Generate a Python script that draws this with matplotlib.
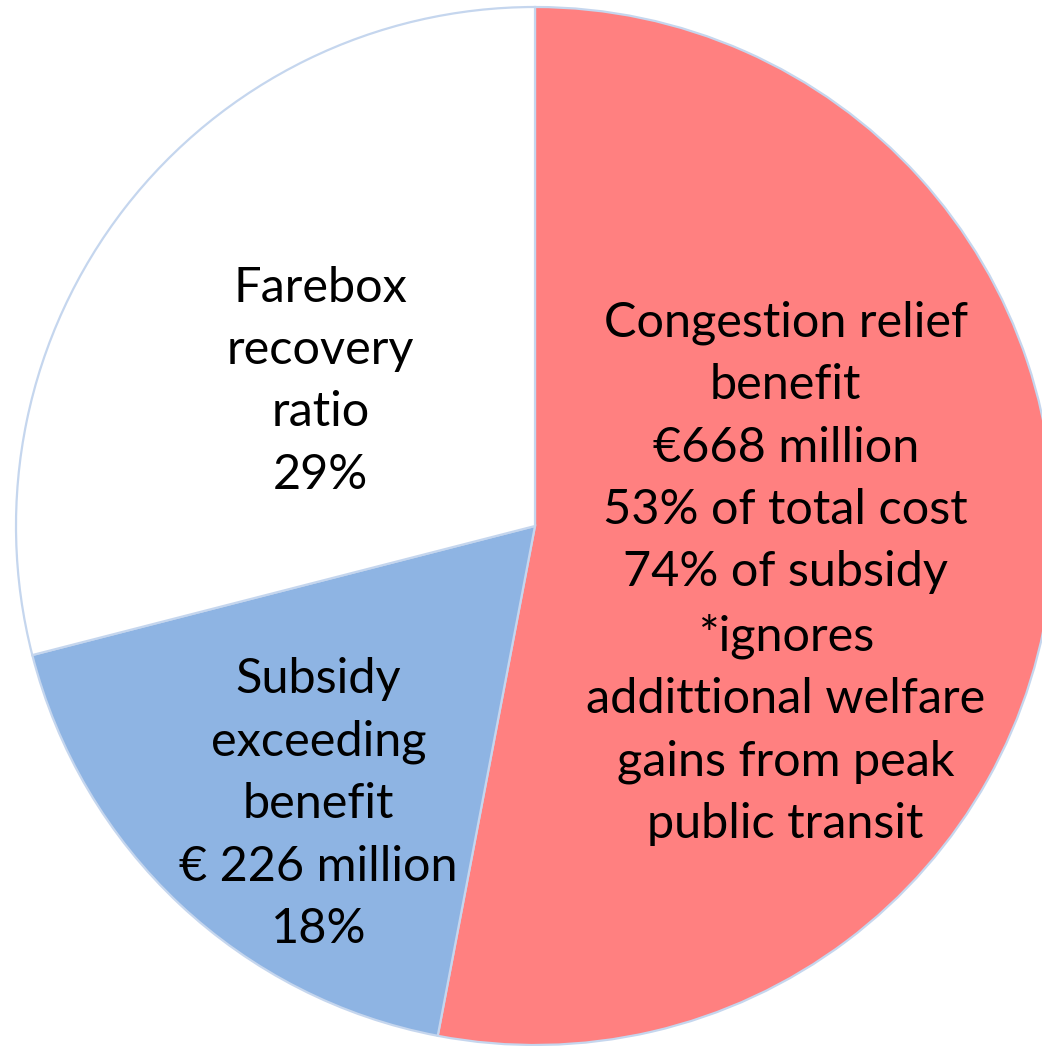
import matplotlib.pyplot as plt

# Shares of total cost (percent), clockwise from 12 o'clock
labels = ["Congestion relief benefit", "Subsidy exceeding benefit", "Farebox recovery ratio"]
shares = [53, 18, 29]
colors = ["#FF8080", "#8EB4E3", "#FFFFFF"]

texts = [
    "Congestion relief\nbenefit\n€668 million\n53% of total cost\n74% of subsidy\n*ignores\naddittional welfare\ngains from peak\npublic transit",
    "Subsidy\nexceeding\nbenefit\n€ 226 million\n18%",
    "Farebox\nrecovery\nratio\n29%",
]
# label centres in units of the pie radius
text_pos = [(0.483, -0.091), (-0.417, -0.536), (-0.413, 0.279)]

W, H = 1042, 1046
cx, cy, r = 535, 526, 519

fig = plt.figure(figsize=(W / 100, H / 100), dpi=100)
ax = fig.add_axes([(cx - r) / W, 1 - (cy + r) / H, 2 * r / W, 2 * r / H])

ax.pie(shares, colors=colors, startangle=90, counterclock=False, radius=1,
       wedgeprops=dict(edgecolor="#C5D6EE", linewidth=1.6))

for t, (x, y) in zip(texts, text_pos):
    ax.text(x, y, t, ha="center", va="center", fontsize=35, family="Lato",
            linespacing=1.51, color="black")

ax.set_xlim(-1, 1)
ax.set_ylim(-1, 1)
ax.set_aspect("auto")
ax.axis("off")

fig.savefig("out.png", dpi=100)
